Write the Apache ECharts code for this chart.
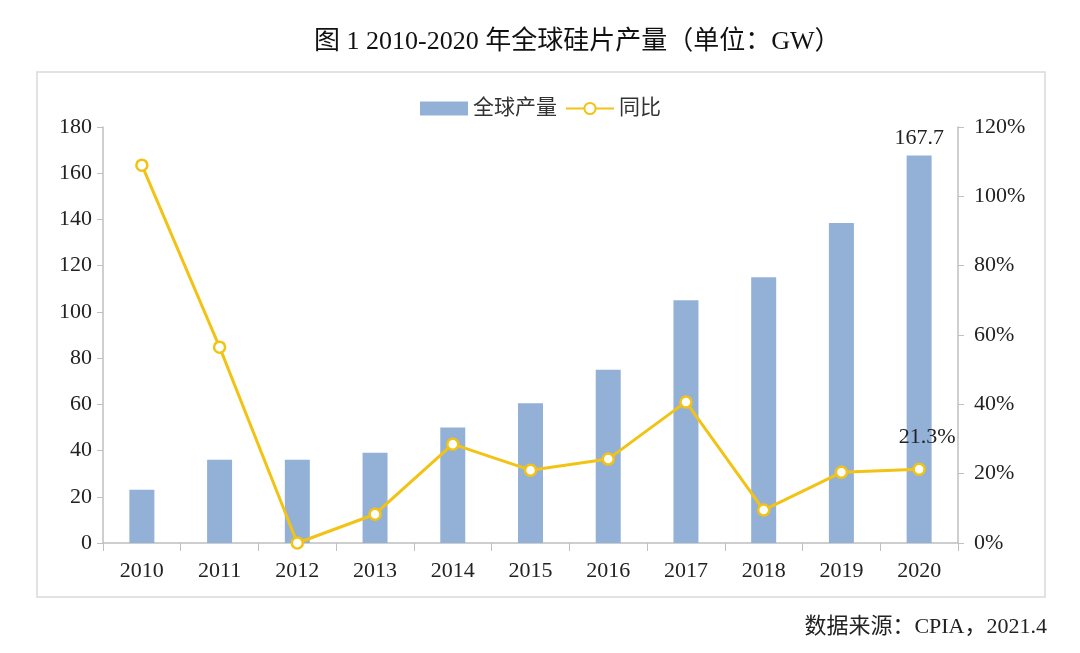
<!DOCTYPE html>
<html><head><meta charset="utf-8">
<script src="https://cdn.jsdelivr.net/npm/echarts@6/dist/echarts.min.js"></script>
<style>html,body{margin:0;padding:0;background:#fff}#c{width:1080px;height:653px}</style>
</head><body><div id="c"></div>
<script>
const years = ['2010','2011','2012','2013','2014','2015','2016','2017','2018','2019','2020'];
const output = [23, 36, 36, 39, 50, 60.5, 75, 105, 115, 138.5, 167.7];
const yoy = [109, 56.5, 0, 8.3, 28.5, 21, 24.2, 40.7, 9.5, 20.4, 21.3];
const leftTicks = [0, 180, 20];
const rightTicks = [0, 120, 20];

const serif = '"Liberation Serif", "Noto Sans CJK SC", serif';
const chart = echarts.init(document.getElementById('c'));
chart.setOption({
  backgroundColor: '#fff',
  animation: false,
  title: {
    text: '图 1 2010-2020 年全球硅片产量（单位：GW）',
    left: 309, top: 24,
    textStyle: { fontFamily: serif, fontSize: 26, fontWeight: 'normal', color: '#111' }
  },
  graphic: [
    { type: 'rect', shape: { x: 37, y: 72, width: 1008, height: 525 },
      style: { fill: 'none', stroke: '#d9d9d9', lineWidth: 1.5 }, z: -1 },
    { type: 'text', right: 33, top: 616,
      style: { text: '数据来源：CPIA，2021.4', font: '22px ' + serif, fill: '#222' } }
  ],
  legend: {
    top: 93, left: 415, itemGap: 8, itemWidth: 48, itemHeight: 14,
    textStyle: { fontFamily: serif, fontSize: 21, color: '#333' },
    data: [
      { name: '全球产量', icon: 'rect' },
      { name: '同比' }
    ]
  },
  grid: { left: 103, right: 122, top: 127, bottom: 110 },
  xAxis: {
    type: 'category', data: years,
    axisLine: { lineStyle: { color: '#bfbfbf', width: 1.5 } },
    axisTick: { show: true, length: 8, lineStyle: { color: '#bfbfbf' } },
    axisLabel: { fontFamily: serif, fontSize: 22, color: '#222', margin: 17 }
  },
  yAxis: [
    { type: 'value', min: leftTicks[0], max: leftTicks[1], interval: leftTicks[2],
      splitLine: { show: false },
      axisLine: { show: true, lineStyle: { color: '#bfbfbf', width: 1.5 } },
      axisTick: { show: true, length: 6, lineStyle: { color: '#bfbfbf' } },
      axisLabel: { fontFamily: serif, fontSize: 22, color: '#222', margin: 11 } },
    { type: 'value', min: rightTicks[0], max: rightTicks[1], interval: rightTicks[2],
      splitLine: { show: false },
      axisLine: { show: true, lineStyle: { color: '#bfbfbf', width: 1.5 } },
      axisTick: { show: true, length: 6, lineStyle: { color: '#bfbfbf' } },
      axisLabel: { fontFamily: serif, fontSize: 22, color: '#222', margin: 16, formatter: '{value}%' } }
  ],
  series: [
    { name: '全球产量', type: 'bar', data: output, barWidth: 25,
      itemStyle: { color: '#93b1d7' },
      label: { show: true, position: 'top', distance: 6,
        fontFamily: serif, fontSize: 22, color: '#222',
        formatter: p => p.dataIndex === output.length - 1 ? String(p.value) : '' } },
    { name: '同比', type: 'line', yAxisIndex: 1, data: yoy,
      symbol: 'circle', symbolSize: 11,
      lineStyle: { color: '#f2c314', width: 3 },
      itemStyle: { color: '#fff', borderColor: '#f2c314', borderWidth: 2.5 },
      label: { show: true, position: 'top', distance: 14, offset: [8, 0],
        fontFamily: serif, fontSize: 22, color: '#222',
        formatter: p => p.dataIndex === yoy.length - 1 ? p.value + '%' : '' } }
  ]
});
</script></body></html>
